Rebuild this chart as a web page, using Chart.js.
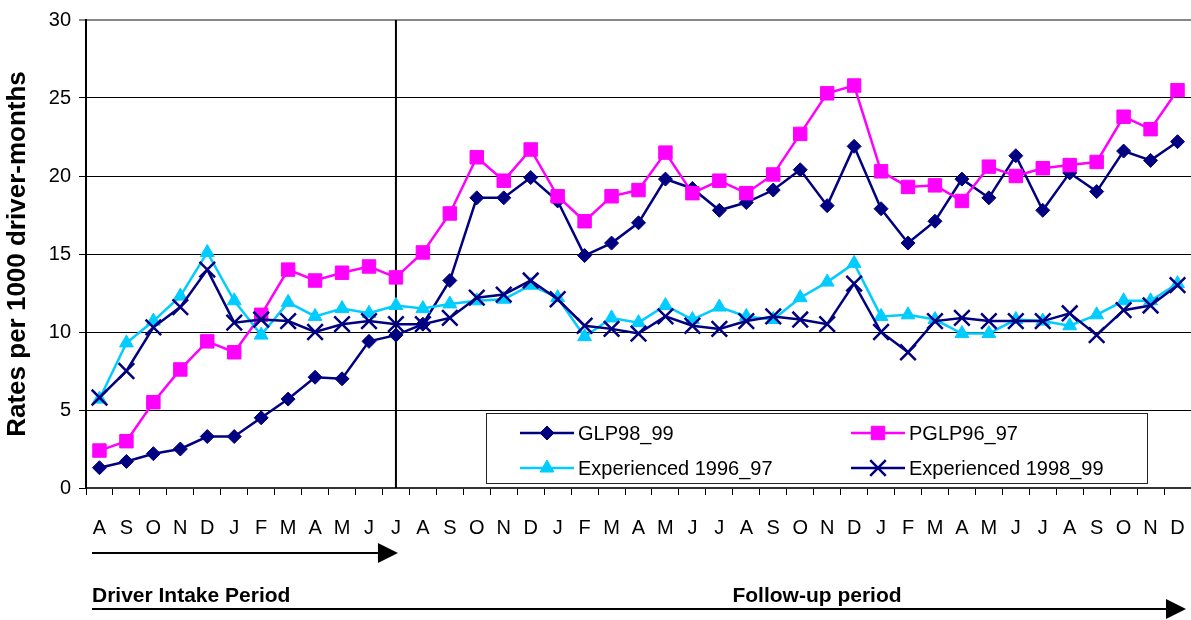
<!DOCTYPE html>
<html>
<head>
<meta charset="utf-8">
<script src="https://cdn.jsdelivr.net/npm/chart.js@4/dist/chart.umd.min.js"></script>
<style>
	html, body { margin: 0; padding: 0; background: #fff; overflow: hidden; }
	#rates-chart { display: block; }
</style>
</head>
<body>
<canvas id="rates-chart" width="1191" height="620"></canvas>
<script>
// month labels, Aug 1998 to Dec 2001
let months = ['A','S','O','N','D','J','F','M','A','M','J','J','A','S','O','N','D','J','F','M','A','M','J','J','A','S','O','N','D','J','F','M','A','M','J','J','A','S','O','N','D'];

let yTicks = [0, 5, 10, 15, 20, 25, 30];

let glp98 = [1.3,1.7,2.2,2.5,3.3,3.3,4.5,5.7,7.1,7.0,9.4,9.8,10.5,13.3,18.6,18.6,19.9,18.4,14.9,15.7,17.0,19.8,19.2,17.8,18.3,19.1,20.4,18.1,21.9,17.9,15.7,17.1,19.8,18.6,21.3,17.8,20.2,19.0,21.6,21.0,22.2];
let pglp96 = [2.4,3.0,5.5,7.6,9.4,8.7,11.1,14.0,13.3,13.8,14.2,13.5,15.1,17.6,21.2,19.7,21.7,18.7,17.1,18.7,19.1,21.5,18.9,19.7,18.9,20.1,22.7,25.3,25.8,20.3,19.3,19.4,18.4,20.6,20.0,20.5,20.7,20.9,23.8,23.0,25.5];
let exp96 = [5.7,9.3,10.7,12.3,15.1,12.0,9.8,11.9,11.0,11.5,11.2,11.7,11.5,11.8,12.0,12.1,13.0,12.2,9.7,10.9,10.6,11.7,10.8,11.6,11.0,10.8,12.2,13.2,14.4,11.0,11.1,10.8,9.9,9.9,10.8,10.7,10.4,11.1,12.0,12.0,13.1];
let exp98 = [5.8,7.5,10.3,11.6,14.0,10.6,10.8,10.7,10.0,10.5,10.7,10.5,10.5,10.9,12.2,12.4,13.3,12.1,10.4,10.2,9.9,11.0,10.4,10.2,10.7,11.0,10.8,10.5,13.1,10.0,8.7,10.7,10.9,10.7,10.7,10.7,11.2,9.8,11.4,11.7,13.0];

let seriesNames = ['GLP98_99', 'PGLP96_97', 'Experienced 1996_97', 'Experienced 1998_99'];

// index of the month where intake ends (second J)
let intakeEnd = 11;

let fontName = '"Liberation Sans", Arial, sans-serif';
let navy = '#000080';
let pink = '#ff00ff';
let cyan = '#00ccff';

// draws a legend marker the same way as the points
function marker(ctx, ds, x, y) {
	ctx.save();
	ctx.strokeStyle = ds.borderColor;
	ctx.fillStyle = ds.pointBackgroundColor;
	ctx.lineWidth = ds.pointBorderWidth;
	Chart.helpers.drawPoint(ctx, {
		pointStyle: ds.pointStyle,
		radius: ds.pointRadius,
		rotation: 0,
		borderWidth: ds.pointBorderWidth
	}, x, y);
	ctx.restore();
}

function arrow(ctx, x1, x2, y) {
	ctx.beginPath();
	ctx.moveTo(x1, y);
	ctx.lineTo(x2 - 20, y);
	ctx.lineWidth = 2;
	ctx.strokeStyle = '#000';
	ctx.stroke();
	ctx.beginPath();
	ctx.moveTo(x2 - 20, y - 10);
	ctx.lineTo(x2, y);
	ctx.lineTo(x2 - 20, y + 10);
	ctx.closePath();
	ctx.fillStyle = '#000';
	ctx.fill();
}

let extras = {
	id: 'extras',
	beforeDatasetsDraw(chart) {
		let ctx = chart.ctx;
		let area = chart.chartArea;
		let x = chart.scales.x.getPixelForValue(intakeEnd);
		ctx.save();
		ctx.beginPath();
		ctx.moveTo(x, area.top);
		ctx.lineTo(x, area.bottom);
		ctx.lineWidth = 2;
		ctx.strokeStyle = '#000';
		ctx.stroke();
		ctx.restore();
	},
	afterDraw(chart) {
		let ctx = chart.ctx;
		let area = chart.chartArea;
		let xs = chart.scales.x;
		ctx.save();

		// legend box inside the plot
		let bx = 486, by = 413, bw = 661, bh = 70;
		ctx.fillStyle = '#fff';
		ctx.fillRect(bx, by, bw, bh);
		ctx.strokeStyle = '#222';
		ctx.lineWidth = 1;
		ctx.strokeRect(bx + 0.5, by + 0.5, bw, bh);

		let cols = [520, 851];
		let rows = [433, 468];
		let sets = chart.data.datasets;
		sets.forEach(function(ds, i) {
			let cx = cols[i % 2];
			let cy = rows[Math.floor(i / 2)];
			ctx.beginPath();
			ctx.moveTo(cx, cy);
			ctx.lineTo(cx + 54, cy);
			ctx.strokeStyle = ds.borderColor;
			ctx.lineWidth = ds.borderWidth;
			ctx.stroke();
			marker(ctx, ds, cx + 27, cy);
			ctx.fillStyle = '#000';
			ctx.font = '20px ' + fontName;
			ctx.textBaseline = 'middle';
			ctx.textAlign = 'left';
			ctx.fillText(ds.label, cx + 58, cy + 1);
		});

		// period arrows and captions under the axis
		let left = area.left + 6;
		arrow(ctx, left, xs.getPixelForValue(intakeEnd) + 2, 553);
		arrow(ctx, left, area.right - 5, 609);
		ctx.fillStyle = '#000';
		ctx.font = 'bold 21px ' + fontName;
		ctx.textBaseline = 'alphabetic';
		ctx.textAlign = 'left';
		ctx.fillText('Driver Intake Period', left, 602);
		ctx.textAlign = 'center';
		ctx.fillText('Follow-up period', 817, 602);
		ctx.restore();
	}
};

let chartCanvas = document.querySelector('#rates-chart');
let contex = chartCanvas.getContext('2d');

let ratesChart = new Chart(contex, {
	type: 'line',
	data: {
		labels: months,
		datasets: [
			{
				label: seriesNames[0],
				data: glp98,
				borderColor: navy,
				backgroundColor: navy,
				pointBackgroundColor: navy,
				pointStyle: 'rectRot',
				pointRadius: 7,
				pointBorderWidth: 1,
				borderWidth: 2.5,
				order: 4
			},
			{
				label: seriesNames[1],
				data: pglp96,
				borderColor: pink,
				backgroundColor: pink,
				pointBackgroundColor: pink,
				pointStyle: 'rect',
				pointRadius: 9.5,
				pointBorderWidth: 1,
				borderWidth: 2.5,
				order: 3
			},
			{
				label: seriesNames[2],
				data: exp96,
				borderColor: cyan,
				backgroundColor: cyan,
				pointBackgroundColor: cyan,
				pointStyle: 'triangle',
				pointRadius: 8,
				pointBorderWidth: 1,
				borderWidth: 2.5,
				order: 2
			},
			{
				label: seriesNames[3],
				data: exp98,
				borderColor: navy,
				backgroundColor: navy,
				pointBackgroundColor: navy,
				pointStyle: 'crossRot',
				pointRadius: 11,
				pointBorderWidth: 2.5,
				borderWidth: 2.5,
				order: 1
			}
		]
	},
	options: {
		responsive: false,
		animation: false,
		layout: {
			autoPadding: false,
			padding: { top: 13, right: 0, bottom: 0, left: 0 }
		},
		plugins: {
			legend: { display: false },
			tooltip: { enabled: false }
		},
		elements: { line: { tension: 0 } },
		scales: {
			x: {
				offset: true,
				grid: {
					offset: true,
					drawOnChartArea: false,
					color: '#000',
					tickLength: 7
				},
				border: { color: '#333', width: 2 },
				ticks: {
					color: '#000',
					font: { family: fontName, size: 20 },
					maxRotation: 0,
					autoSkip: false,
					padding: 21
				},
				afterFit: function(scale) {
					scale.height = 132;
					scale.paddingLeft = 0;
					scale.paddingRight = 0;
				}
			},
			y: {
				min: 0,
				max: 30,
				afterBuildTicks: function(scale) {
					scale.ticks = yTicks.map(function(v) { return { value: v }; });
				},
				grid: {
					color: function(c) { return c.tick && c.tick.value === 30 ? '#888' : '#000'; },
					lineWidth: function(c) { return c.tick && c.tick.value === 30 ? 2 : 1; },
					tickLength: 7
				},
				border: { color: '#000', width: 2 },
				ticks: {
					color: '#000',
					font: { family: fontName, size: 20 },
					padding: 8
				},
				title: {
					display: true,
					text: 'Rates per 1000 driver-months',
					color: '#000',
					font: { family: fontName, size: 26, weight: 'bold' },
					padding: { top: 2, bottom: 0 }
				},
				afterFit: function(scale) { scale.width = 86; }
			}
		}
	},
	plugins: [extras]
});
</script>
</body>
</html>
